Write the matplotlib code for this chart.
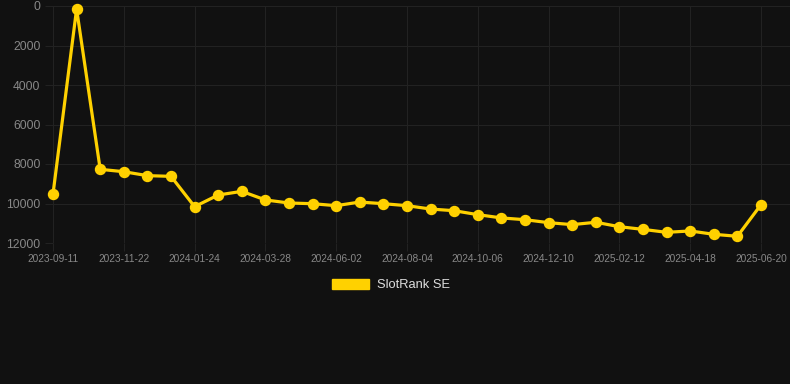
import matplotlib

matplotlib.use("Agg")
import matplotlib.pyplot as plt
from matplotlib.patches import Patch

# data (rank, lower is better -> inverted axis)
dates = [
    "2023-09-11", "2023-10-05", "2023-10-29", "2023-11-22", "2023-12-13", "2024-01-03",
    "2024-01-24", "2024-02-14", "2024-03-06", "2024-03-28", "2024-04-19", "2024-05-11",
    "2024-06-02", "2024-06-23", "2024-07-14", "2024-08-04", "2024-08-25", "2024-09-15",
    "2024-10-06", "2024-10-28", "2024-11-19", "2024-12-10", "2024-12-31", "2025-01-22",
    "2025-02-12", "2025-03-06", "2025-03-27", "2025-04-18", "2025-05-09", "2025-05-30",
    "2025-06-20",
]
ranks = [
    9520, 150, 8270, 8390, 8590, 8625,
    10160, 9570, 9385, 9820, 9975, 10010,
    10110, 9925, 10010, 10110, 10280, 10365,
    10565, 10730, 10820, 10970, 11070, 10950,
    11175, 11310, 11460, 11390, 11560, 11660,
    10060,
]
y_ticks = [0, 2000, 4000, 6000, 8000, 10000, 12000]
series_name = "SlotRank SE"

BG = "#111111"
GRID = "#222222"
TICK_TXT = "#888888"
GOLD = "#FFD100"

plt.rcParams["font.family"] = ["Liberation Sans", "DejaVu Sans"]

fig = plt.figure(figsize=(7.9, 3.84), dpi=100, facecolor=BG)
ax = fig.add_axes([53 / 790, (384 - 243) / 384, (790 - 53) / 790, 237 / 384])
ax.set_facecolor(BG)

x = list(range(len(dates)))
ax.plot(x, ranks, color=GOLD, lw=2.3, marker="o", ms=7.2,
        markerfacecolor=GOLD, markeredgecolor=GOLD, clip_on=False, zorder=3)

ax.set_ylim(12000, 0)
ax.set_yticks(y_ticks)
ax.set_yticklabels([str(v) for v in y_ticks])
ax.set_xlim(0, (790 - 53) / 23.6)
ax.set_xticks(x[::3])
ax.set_xticklabels(dates[::3])

ax.grid(True, color=GRID, lw=0.8)
for s in ax.spines.values():
    s.set_visible(False)
ax.tick_params(axis="y", colors=GRID, labelcolor=TICK_TXT, labelsize=8.7,
               length=6, width=0.8, pad=3)
ax.tick_params(axis="x", colors=GRID, labelcolor=TICK_TXT, labelsize=7.3,
               length=6, width=0.8, pad=2)

fig.legend(handles=[Patch(facecolor=GOLD, edgecolor=GOLD, label=series_name)],
           loc="center", bbox_to_anchor=(391 / 790, 1 - 285 / 384),
           frameon=False, fontsize=9.3, labelcolor="#dddddd",
           handlelength=2.9, handleheight=0.9, handletextpad=0.6)

fig.savefig("out.png", dpi=100, facecolor=BG)
